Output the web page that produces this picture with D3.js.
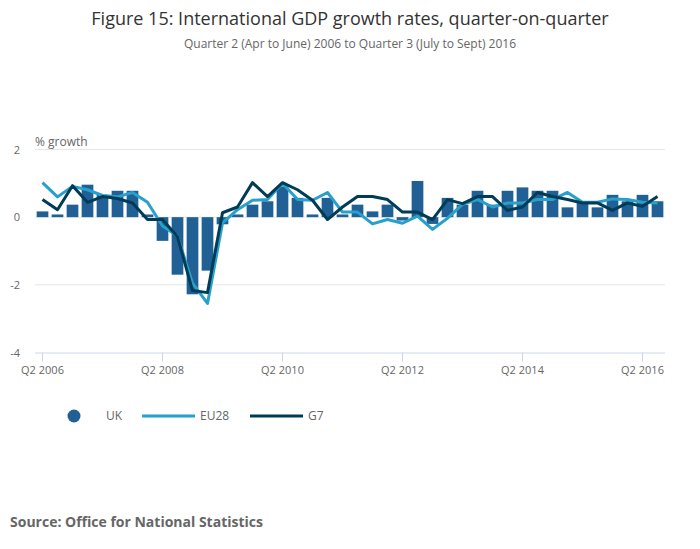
<!DOCTYPE html>
<html>
<head>
<meta charset="utf-8">
<script src="https://cdn.jsdelivr.net/npm/d3@7"></script>
<style>
  body { margin: 0; background: #fff; font-family: "Open Sans", sans-serif; }
</style>
</head>
<body>
<div id="chart"></div>
<script>
// Quarters Q2 2006 .. Q3 2016
var quarters = [];
for (var yr = 2006; yr <= 2016; yr++) {
    for (var q = 1; q <= 4; q++) {
        if (yr === 2006 && q < 2) continue;
        if (yr === 2016 && q > 3) continue;
        quarters.push("Q" + q + " " + yr);
    }
}

var ukValues = [0.17, 0.08, 0.37, 0.96, 0.66, 0.78, 0.78, 0.08, -0.70, -1.70,
    -2.28, -1.58, -0.21, 0.08, 0.37, 0.47, 0.91, 0.57, 0.08, 0.57,
    0.08, 0.37, 0.17, 0.37, -0.10, 1.07, -0.20, 0.57, 0.37, 0.78,
    0.37, 0.78, 0.88, 0.78, 0.78, 0.29, 0.42, 0.29, 0.66, 0.47,
    0.66, 0.47];

var eu28Values = [1.02, 0.60, 0.91, 0.81, 0.64, 0.60, 0.73, 0.44, -0.26, -0.56,
    -1.95, -2.55, -0.17, 0.22, 0.50, 0.52, 1.00, 0.52, 0.50, 0.73,
    0.15, 0.15, -0.20, -0.07, -0.18, 0.03, -0.36, -0.03, 0.38, 0.52,
    0.30, 0.42, 0.42, 0.52, 0.52, 0.73, 0.44, 0.44, 0.54, 0.52,
    0.44, 0.42];

var g7Values = [0.52, 0.22, 0.93, 0.44, 0.61, 0.55, 0.42, -0.07, -0.07, -0.58,
    -2.17, -2.23, 0.13, 0.30, 1.02, 0.61, 1.02, 0.81, 0.50, -0.07,
    0.30, 0.61, 0.61, 0.52, 0.15, 0.15, -0.07, 0.52, 0.40, 0.61,
    0.61, 0.20, 0.30, 0.73, 0.61, 0.52, 0.42, 0.42, 0.20, 0.42,
    0.32, 0.61];

var yTicks = [-4, -2, 0, 2];
var xTickLabels = ["Q2 2006", "Q2 2008", "Q2 2010", "Q2 2012", "Q2 2014", "Q2 2016"];

var w = 700, h = 549;
var plotLeft = 35, plotRight = 665, plotTop = 149.5, plotBottom = 352.5;

var svg = d3.select("#chart").append("svg")
    .attr("width", w).attr("height", h)
    .style("font-family", "'Open Sans', sans-serif");

// Titles
svg.append("text")
    .attr("x", 350).attr("y", 25)
    .attr("text-anchor", "middle")
    .style("font-size", "18px")
    .attr("fill", "#333")
    .text("Figure 15: International GDP growth rates, quarter-on-quarter");

svg.append("text")
    .attr("x", 350).attr("y", 48)
    .attr("text-anchor", "middle")
    .style("font-size", "12px")
    .attr("fill", "#666")
    .text("Quarter 2 (Apr to June) 2006 to Quarter 3 (July to Sept) 2016");

var x = d3.scaleBand().domain(quarters).range([plotLeft, plotRight]).paddingInner(0.22).paddingOuter(0.11);
var xc = function (d) { return x(d) + x.bandwidth() / 2; };
var y = d3.scaleLinear().domain([-4, 2]).range([plotBottom, plotTop]);

// Gridlines
svg.append("g").selectAll("line")
    .data(yTicks.filter(function (d) { return d !== -4; }))
    .enter().append("line")
    .attr("x1", plotLeft).attr("x2", plotRight)
    .attr("y1", function (d) { return y(d); })
    .attr("y2", function (d) { return y(d); })
    .attr("stroke", "#e6e6e6");

// Y labels
svg.append("g").selectAll("text")
    .data(yTicks)
    .enter().append("text")
    .attr("x", 20)
    .attr("y", function (d) { return y(d) + 4; })
    .attr("text-anchor", "end")
    .style("font-size", "11px")
    .attr("fill", "#666")
    .text(function (d) { return d; });

svg.append("text")
    .attr("x", plotLeft).attr("y", 146)
    .style("font-size", "12px")
    .attr("fill", "#666")
    .text("% growth");

// X axis
var xAxis = d3.axisBottom(x)
    .tickValues(xTickLabels)
    .tickSize(9)
    .tickSizeOuter(0);

var gx = svg.append("g")
    .attr("transform", "translate(0," + plotBottom + ")")
    .call(xAxis);
gx.select(".domain").attr("stroke", "#ccd6eb").attr("d", "M" + plotLeft + ",0.5H" + plotRight);
gx.selectAll(".tick line").attr("stroke", "#ccd6eb");
gx.selectAll(".tick text")
    .attr("fill", "#666")
    .style("font-size", "11px")
    .style("font-family", "'Open Sans', sans-serif")
    .attr("dy", "0.85em");

// Bars
svg.append("g").selectAll("rect")
    .data(ukValues)
    .enter().append("rect")
    .attr("x", function (d, i) { return x(quarters[i]); })
    .attr("width", x.bandwidth())
    .attr("y", function (d) { return y(Math.max(0, d)); })
    .attr("height", function (d) { return Math.abs(y(d) - y(0)); })
    .attr("fill", "#206095");

// Lines
var line = d3.line()
    .x(function (d, i) { return xc(quarters[i]); })
    .y(function (d) { return y(d); });

svg.append("path")
    .datum(eu28Values)
    .attr("fill", "none")
    .attr("stroke", "#27a0cc")
    .attr("stroke-width", 3)
    .attr("stroke-linejoin", "round")
    .attr("d", line);

svg.append("path")
    .datum(g7Values)
    .attr("fill", "none")
    .attr("stroke", "#003c57")
    .attr("stroke-width", 3)
    .attr("stroke-linejoin", "round")
    .attr("d", line);

// Legend
var legend = svg.append("g");
legend.append("circle").attr("cx", 74).attr("cy", 416).attr("r", 6.5).attr("fill", "#206095");
legend.append("text").attr("x", 106).attr("y", 420).style("font-size", "12px").attr("fill", "#666").text("UK");
legend.append("line").attr("x1", 142).attr("x2", 195).attr("y1", 416).attr("y2", 416)
    .attr("stroke", "#27a0cc").attr("stroke-width", 3);
legend.append("text").attr("x", 200).attr("y", 420).style("font-size", "12px").attr("fill", "#666").text("EU28");
legend.append("line").attr("x1", 250).attr("x2", 303).attr("y1", 416).attr("y2", 416)
    .attr("stroke", "#003c57").attr("stroke-width", 3);
legend.append("text").attr("x", 308).attr("y", 420).style("font-size", "12px").attr("fill", "#666").text("G7");

// Source
svg.append("text")
    .attr("x", 10).attr("y", 527)
    .style("font-size", "14px")
    .style("font-weight", "bold")
    .attr("fill", "#666")
    .text("Source: Office for National Statistics");
</script>
</body>
</html>
